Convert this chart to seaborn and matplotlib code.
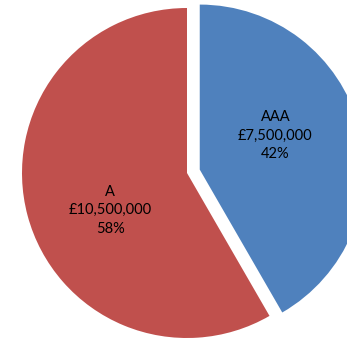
import matplotlib
matplotlib.use("Agg")
import matplotlib.pyplot as plt
import seaborn as sns

sns.set_style("white")
plt.rcParams['font.family'] = ['Lato', 'DejaVu Sans']

categories = ["AAA", "A"]
values = [7500000, 10500000]
colors = ["#4F81BD", "#C0504D"]
explode = [0.08, 0.0]

# label anchor positions (axes data units, pie radius = 1)
label_pos = [(0.535, 0.225), (-0.465, -0.225)]

fig = plt.figure(figsize=(3.47, 3.39), dpi=100)
ax = fig.add_axes([0, 0, 1, 1])
wedges, _ = ax.pie(values, colors=colors, explode=explode, startangle=90,
                   counterclock=False, radius=1.0,
                   wedgeprops=dict(linewidth=0))
total = sum(values)
for cat, v, (x, y) in zip(categories, values, label_pos):
    pct = round(100 * v / total)
    ax.text(x, y, f"{cat}\n£{v:,.0f}\n{pct}%", ha="center", va="center",
            fontsize=10.5, color="black", linespacing=1.4)

ax.set_xlim(-187 / 165, (347 - 187) / 165)
ax.set_ylim(-166 / 165, 173 / 165)
ax.set_aspect("auto")
ax.axis("off")
fig.savefig("out.png", dpi=100)
